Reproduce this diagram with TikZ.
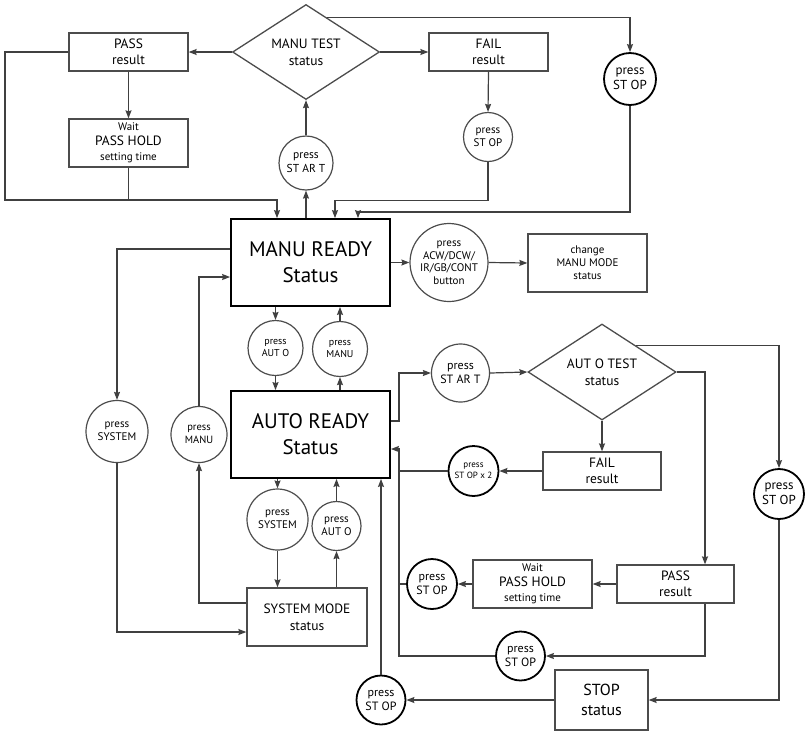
\documentclass[tikz,border=0pt]{standalone}
\usepackage{fontspec}
\setmainfont{PT Sans}
\usepackage{tikz}
\usetikzlibrary{shapes.geometric, arrows.meta, calc}

\begin{document}
\begin{tikzpicture}[x=1pt, y=-1pt,
    wire/.style={draw=black!75, line width=1.2pt},
    arrw/.style={wire, -{Stealth[length=8pt,width=6pt,inset=1pt]}},
    ft/.style args={#1/#2}{font=\fontsize{#1}{#2}\selectfont},
    box/.style={rectangle, draw=black!70, line width=1.3pt, inner sep=0pt, align=center},
    mainbox/.style={box, draw=black, line width=1.8pt, minimum width=159pt, minimum height=87pt, ft=21/26},
    btn/.style={circle, draw=black!70, line width=1.2pt, inner sep=0pt, align=center, minimum size=#1},
    btn/.default=50pt,
    stopbtn/.style={btn=#1, draw=black, line width=1.8pt},
    stopbtn/.default=50pt,
    dec/.style={diamond, aspect=1.5, draw=black!70, line width=1.3pt, inner sep=0pt, align=center, minimum width=147pt, minimum height=95pt}]

    \useasboundingbox (0,0) rectangle (805,732);

    \node[dec, ft=13.5/17] (mtest) at (306,52) {MANU TEST\\status};
    \node[box, minimum width=119pt, minimum height=38pt, ft=13.5/16] (ppass) at (128.5,52) {PASS\\result};
    \node[box, minimum width=119pt, minimum height=48pt, ft=13.5/15] (pwait) at (128.5,143) {{\fontsize{11}{15}\selectfont Wait}\\PASS HOLD\\{\fontsize{11}{15}\selectfont setting time}};
    \node[box, minimum width=119pt, minimum height=38pt, ft=13.5/16] (pfail) at (488.5,52) {FAIL\\result};
    \node[btn=49pt, ft=11/13] (sfail) at (488,137) {press\\ST OP};
    \node[stopbtn=52pt, ft=13/15] (stopr) at (630,79) {press\\ST OP};
    \node[btn=54pt, ft=11.5/14] (pstart) at (306,163) {press\\ST AR T};

    \node[mainbox] (mready) at (310.5,262.5) {MANU READY\\Status};
    \node[btn=78pt, ft=11/12.5] (acw) at (449,262.5) {press\\ACW/DCW/\\IR/GB/CONT\\button};
    \node[box, minimum width=119pt, minimum height=58pt, ft=11/13] (change) at (587.5,263) {change\\MANU MODE\\status};
    \node[btn=55pt, ft=10/12] (autmid) at (275.5,348) {press\\AUT O};
    \node[btn=55pt, ft=10/12] (manmid) at (340,349) {press\\MANU};
    \node[btn=62pt, ft=11/13] (syslft) at (117,431.5) {press\\SYSTEM};
    \node[btn=56pt, ft=10.5/12.5] (manlft) at (199,434.5) {press\\MANU};

    \node[mainbox] (aready) at (310.5,434.5) {AUTO READY\\Status};
    \node[btn=61pt, ft=11/13] (sysmid) at (277.5,519.5) {press\\SYSTEM};
    \node[btn=49pt, ft=11/13] (autlow) at (336.5,526) {press\\AUT O};
    \node[box, minimum width=120pt, minimum height=58pt, ft=13.5/17] (sysmode) at (307,617) {SYSTEM MODE\\status};
    \node[stopbtn=49pt, ft=12/14] (stopb) at (381,700) {press\\ST OP};

    \node[btn=58pt, ft=12/14] (startA) at (460.5,373) {press\\ST AR T};
    \node[dec, minimum width=148pt, minimum height=96pt, ft=13.5/17] (atest) at (602,372) {AUT O TEST\\status};
    \node[box, minimum width=118pt, minimum height=38pt, ft=13.5/16] (afail) at (602,471) {FAIL\\result};
    \node[stopbtn=50pt, ft=9/11] (stop2) at (473.5,471) {press\\ST OP x 2};
    \node[stopbtn=50pt, ft=12/14] (stopw) at (432,584) {press\\ST OP};
    \node[box, minimum width=119pt, minimum height=48pt, ft=13.5/15] (await) at (532.5,584) {{\fontsize{11}{15}\selectfont Wait}\\PASS HOLD\\{\fontsize{11}{15}\selectfont setting time}};
    \node[box, minimum width=117pt, minimum height=38pt, ft=13.5/16] (apass) at (675.5,584) {PASS\\result};
    \node[stopbtn=49pt, ft=12/14] (stopl) at (520.5,656) {press\\ST OP};
    \node[box, minimum width=93pt, minimum height=60pt, ft=16/20] (stopst) at (601.5,700) {STOP\\status};
    \node[stopbtn=50pt, ft=13/15] (stopR) at (779,494) {press\\ST OP};

    \coordinate (rail) at (399,449);

    \foreach \a/\b in {mtest/ppass, afail/stop2, apass/await, await/stopw, stopst/stopb}
        \draw[arrw] (\a.west) -- (\b.east);
    \foreach \a/\b in {mtest/pfail, mready/acw, acw/change, startA/atest}
        \draw[arrw] (\a.east) -- (\b.west);
    \foreach \a/\b in {ppass/pwait, pfail/sfail, atest/afail}
        \draw[arrw] (\a.south) -- (\b.north);

    \foreach \c/\hi/\lo in {autmid/mready/aready, sysmid/aready/sysmode} {
        \draw[arrw] (\c.north |- \hi.south) -- (\c.north);
        \draw[arrw] (\c.south) -- (\c.south |- \lo.north);
    }
    \foreach \c/\hi/\lo in {manmid/mready/aready, autlow/aready/sysmode} {
        \draw[arrw] (\c.south |- \lo.north) -- (\c.south);
        \draw[arrw] (\c.north) -- (\c.north |- \hi.south);
    }

    \draw[arrw] (pstart.south |- mready.north) -- (pstart.south);
    \draw[arrw] (pstart.north) -- (mtest.south);
    \draw[arrw] (ppass.west) -| (5,200) -| ([xshift=-33.5pt]mready.north);
    \draw[wire] (pwait.south) -- ++(0,33);
    \draw[arrw] (sfail.south) -- ++(0,38.5) -| ([xshift=24.5pt]mready.north);
    \draw[arrw] ($(mtest.north)!0.28!(mtest.east)$) -| (stopr.north);
    \draw[arrw] (stopr.south) -- ++(0,106) -| ([xshift=47.5pt]mready.north);

    \draw[arrw] ($(mready.west)+(0,-13.5)$) -| (syslft.north);
    \draw[arrw] (manlft.north) |- ($(mready.west)+(0,14.5)$);
    \draw[arrw] ($(sysmode.west)+(0,-14)$) -| (manlft.south);
    \draw[arrw] (syslft.south) |- ($(sysmode.west)+(0,15)$);
    \draw[arrw] (stopb.north) -- (stopb.north |- aready.south);

    \draw[arrw] ($(aready.east)+(0,-13.5)$) -- ++(8,0) |- (startA.west);
    \draw[arrw] (atest.east) -| ([xshift=29.5pt]apass.north);
    \draw[arrw] ($(atest.north)!0.46!(atest.east)$) -| (stopR.north);
    \draw[arrw] (stopR.south) |- (stopst.east);
    \draw[arrw] ([xshift=29.5pt]apass.south) |- (stopl.east);
    \draw[arrw] (stopl.west) -| (rail) -- (rail -| aready.east);
    \foreach \s in {stop2, stopw}
        \draw[wire] (\s.west) -- (\s.west -| rail);
\end{tikzpicture}
\end{document}
